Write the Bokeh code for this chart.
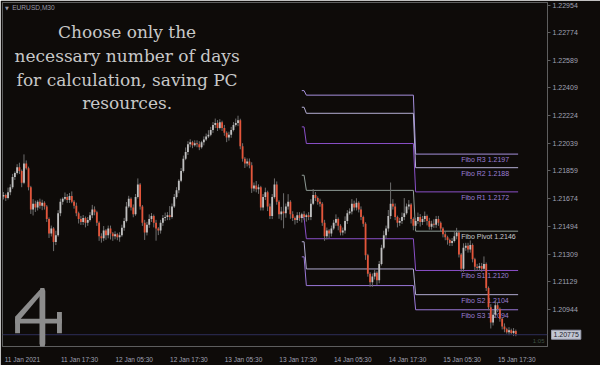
from bokeh.plotting import figure
from bokeh.models import (Range1d, FixedTicker, NumeralTickFormatter, Label, Span,
                          PolyAnnotation, ColumnDataSource, CustomJSTickFormatter)
from bokeh.embed import file_html
from bokeh.resources import INLINE
from bokeh.core.properties import value

# ---------------- data ----------------
symbol = "EURUSD,M30"
headline = ["Choose only the", "necessary number of days",
            "for calculation, saving PC", "resources."]
time_labels = ["11 Jan 2021", "11 Jan 17:30", "12 Jan 05:30", "12 Jan 17:30",
               "13 Jan 05:30", "13 Jan 17:30", "14 Jan 05:30", "14 Jan 17:30",
               "15 Jan 05:30", "15 Jan 17:30"]
time_label_bars = [0, 24, 48, 72, 96, 120, 144, 168, 192, 216]
price_ticks = [1.22954, 1.22774, 1.22589, 1.22409, 1.22224, 1.22039, 1.21859,
               1.21674, 1.21494, 1.21309, 1.21129, 1.20944]

first_open = 1.21690
closes = [
    1.21699, 1.21680, 1.21718, 1.21750, 1.21819, 1.21845, 1.21883, 1.21858, 1.21781, 1.21908,
    1.21877, 1.21750, 1.21604, 1.21642, 1.21617, 1.21655, 1.21629, 1.21648, 1.21623, 1.21541,
    1.21445, 1.21477, 1.21388, 1.21433, 1.21579, 1.21655, 1.21674, 1.21686, 1.21667, 1.21693,
    1.21655, 1.21629, 1.21579, 1.21541, 1.21521, 1.21547, 1.21515, 1.21534, 1.21566, 1.21604,
    1.21585, 1.21515, 1.21426, 1.21414, 1.21464, 1.21433, 1.21477, 1.21445, 1.21426, 1.21439,
    1.21420, 1.21433, 1.21483, 1.21528, 1.21623, 1.21674, 1.21617, 1.21572, 1.21686, 1.21769,
    1.21623, 1.21515, 1.21452, 1.21502, 1.21541, 1.21560, 1.21515, 1.21477, 1.21464, 1.21515,
    1.21547, 1.21553, 1.21566, 1.21553, 1.21623, 1.21686, 1.21731, 1.21794, 1.21858, 1.21940,
    1.21984, 1.22035, 1.22048, 1.22029, 1.22041, 1.22035, 1.22016, 1.22048, 1.22067, 1.22086,
    1.22098, 1.22130, 1.22162, 1.22175, 1.22143, 1.22181, 1.22143, 1.22111, 1.22079, 1.22098,
    1.22130, 1.22162, 1.22175, 1.22194, 1.22022, 1.21940, 1.21908, 1.21921, 1.21896, 1.21743,
    1.21762, 1.21737, 1.21750, 1.21617, 1.21686, 1.21718, 1.21623, 1.21560, 1.21686, 1.21769,
    1.21655, 1.21572, 1.21591, 1.21579, 1.21623, 1.21655, 1.21572, 1.21547, 1.21534, 1.21566,
    1.21547, 1.21572, 1.21553, 1.21566, 1.21553, 1.21642, 1.21699, 1.21680, 1.21655, 1.21642,
    1.21515, 1.21426, 1.21464, 1.21445, 1.21477, 1.21515, 1.21541, 1.21496, 1.21452, 1.21464,
    1.21528, 1.21579, 1.21591, 1.21642, 1.21617, 1.21648, 1.21604, 1.21553, 1.21509, 1.21300,
    1.21179, 1.21122, 1.21160, 1.21185, 1.21135, 1.21243, 1.21350, 1.21433, 1.21477, 1.21560,
    1.21642, 1.21623, 1.21553, 1.21515, 1.21528, 1.21553, 1.21579, 1.21623, 1.21636, 1.21541,
    1.21496, 1.21528, 1.21553, 1.21521, 1.21541, 1.21560, 1.21528, 1.21490, 1.21509, 1.21502,
    1.21541, 1.21515, 1.21477, 1.21439, 1.21420, 1.21401, 1.21382, 1.21395, 1.21426, 1.21452,
    1.21306, 1.21211, 1.21350, 1.21363, 1.21338, 1.21369, 1.21274, 1.21224, 1.21217, 1.21230,
    1.21211, 1.21243, 1.21084, 1.20957, 1.20856, 1.20907, 1.20970, 1.20945, 1.20881, 1.20830,
    1.20811, 1.20792, 1.20805, 1.20786, 1.20799, 1.20775,
]
wick_hi_pips = [
    2, 1, 3, 2, 2, 1, 2, 3, 1, 6,  2, 1, 1, 3, 2, 1, 2, 2, 1, 1,
    1, 2, 1, 3, 2, 2, 1, 3, 2, 2,  3, 1, 2, 1, 2, 2, 1, 2, 2, 3,
    2, 1, 1, 2, 3, 1, 2, 2, 1, 2,  1, 2, 2, 2, 3, 2, 1, 2, 2, 4,
    1, 1, 2, 2, 3, 2, 1, 2, 1, 2,  2, 3, 2, 6, 2, 2, 2, 1, 2, 2,
    3, 2, 2, 1, 2, 2, 2, 1, 2, 2,  3, 2, 2, 3, 2, 2, 1, 2, 1, 2,
    2, 2, 3, 3, 1, 2, 1, 2, 2, 2,  2, 3, 2, 1, 2, 3, 1, 2, 2, 4,
    2, 1, 3, 12, 2, 5, 1, 2, 1, 2, 2, 1, 2, 1, 2, 3, 4, 2, 1, 2,
    1, 2, 2, 1, 2, 2, 3, 1, 1, 2,  3, 2, 2, 3, 2, 3, 1, 2, 1, 1,
    1, 1, 2, 2, 1, 2, 2, 3, 2, 4,  14, 3, 2, 1, 2, 3, 10, 2, 3, 1,
    1, 2, 3, 2, 2, 3, 1, 2, 2, 3,  2, 2, 1, 1, 2, 1, 1, 2, 3, 3,
    1, 1, 3, 2, 2, 3, 1, 1, 2, 2,  2, 5, 1, 1, 2, 3, 3, 2, 1, 1,
    2, 1, 2, 1, 2, 1,
]
wick_lo_pips = [
    2, 2, 1, 2, 1, 2, 1, 2, 3, 1,  1, 2, 3, 4, 3, 2, 2, 3, 2, 2,
    3, 2, 6, 2, 1, 2, 2, 1, 2, 2,  1, 2, 2, 3, 2, 2, 3, 2, 1, 2,
    2, 2, 3, 3, 2, 3, 2, 4, 3, 2,  2, 3, 1, 2, 1, 1, 2, 2, 1, 1,
    2, 2, 5, 2, 2, 2, 3, 8, 3, 2,  2, 2, 2, 2, 1, 1, 1, 2, 1, 1,
    1, 2, 2, 2, 1, 2, 2, 1, 2, 1,  1, 1, 2, 2, 2, 1, 2, 2, 3, 2,
    2, 1, 1, 2, 2, 2, 3, 2, 2, 3,  2, 2, 3, 2, 2, 2, 3, 2, 2, 1,
    2, 3, 4, 10, 3, 2, 3, 2, 3, 2, 2, 3, 2, 3, 2, 2, 1, 2, 2, 2,
    2, 3, 2, 3, 2, 1, 2, 3, 2, 2,  2, 2, 1, 2, 2, 2, 2, 2, 2, 3,
    2, 3, 3, 2, 3, 2, 1, 1, 2, 2,  2, 2, 2, 3, 2, 2, 2, 1, 2, 3,
    3, 2, 2, 3, 2, 2, 3, 2, 2, 2,  2, 2, 2, 2, 2, 3, 2, 2, 1, 2,
    2, 2, 2, 2, 2, 2, 2, 3, 2, 2,  2, 1, 2, 2, 4, 2, 2, 2, 2, 2,
    2, 1, 2, 1, 2, 1,
]

level_names = ["R3", "R2", "R1", "Pivot", "S1", "S2", "S3"]
level_13jan = [1.2239, 1.2228, 1.2215, 1.2183, 1.2155, 1.2139, 1.2129]
level_14jan = [1.2236, 1.2224, 1.2204, 1.2173, 1.2141, 1.2121, 1.2110]
level_15jan = [1.2197, 1.2188, 1.2172, 1.2146, 1.2120, 1.2104, 1.2094]
# bar index where each day's segment starts/ends (13 Jan tail, 14 Jan, 15 Jan)
day_bars = [131, 132, 133, 180, 181, 226]
label_bar = 201
bid_price = 1.20775
timer_text = "1:05"

# ---------------- styles ----------------
BG = "#0e0b09"
FRAME = "#5e5e5e"
BULL = "#c0c0c0"
BEAR = "#e4553a"
WICK = "#6e6e6e"
level_colors = ["#a590dc", "#b4aed4", "#8a50c8", "#8f9c96", "#8a50c8", "#b0aad0", "#9a78d8"]
label_colors = ["#9c7fd6", "#9c7fd6", "#9c7fd6", "#c6cacd", "#9c7fd6", "#9c7fd6", "#9c7fd6"]
AXIS_TXT = "#a0a2b4"
SMALL_FONT = "Liberation Sans"

# ---------------- derived candle table ----------------
n = len(closes)
xs = list(range(n))
opens = [first_open] + closes[:-1]
pip = 0.0001
highs = [max(o, c) + h * pip for o, c, h in zip(opens, closes, wick_hi_pips)]
lows = [min(o, c) - l * pip for o, c, l in zip(opens, closes, wick_lo_pips)]
tops = [max(o, c) for o, c in zip(opens, closes)]
bottoms = [min(o, c) for o, c in zip(opens, closes)]
colors = [BULL if c >= o else BEAR for o, c in zip(opens, closes)]
src = ColumnDataSource(dict(x=xs, high=highs, low=lows, top=tops, bottom=bottoms, color=colors))

p = figure(frame_width=545, frame_height=344,
           min_border_left=2, min_border_right=37, min_border_top=2, min_border_bottom=13,
           x_range=Range1d(-0.43, 238.9), y_range=Range1d(1.20697, 1.22973),
           y_axis_location="right", output_backend="svg", toolbar_location=None,
           background_fill_color=BG, border_fill_color=BG,
           outline_line_color=FRAME, outline_line_width=1)
p.grid.visible = False

# pivot lines
for k in range(len(level_names)):
    ys = [level_13jan[k], level_13jan[k], level_14jan[k], level_14jan[k],
          level_15jan[k], level_15jan[k]]
    p.line(day_bars, ys, line_color=level_colors[k], line_width=1)

fibo_text = ["Fibo %s %.4f" % (nm, v) for nm, v in zip(level_names, level_15jan)]
p.text(x=[label_bar] * len(level_names), y=level_15jan, text=fibo_text,
       text_color=label_colors, text_font=value(SMALL_FONT), text_font_size="7px",
       text_align="left", text_baseline="middle", y_offset=5.5)

# bid line
p.add_layout(Span(location=bid_price, dimension="width", line_color="#2e2e58", line_width=1))

# candles
p.segment(x0="x", y0="low", x1="x", y1="high", source=src, line_color=WICK, line_width=1)
p.vbar(x="x", width=0.8, top="top", bottom="bottom", fill_color="color",
       line_color=None, source=src)

# x axis (labels left-aligned to their tick, as in MT4)
label_offsets = [8.3] + [9.4] * (len(time_label_bars) - 1)
tick_centers = [round(b + o, 1) for b, o in zip(time_label_bars, label_offsets)]
xa = p.xaxis[0]
xa.ticker = FixedTicker(ticks=tick_centers)
xa.formatter = CustomJSTickFormatter(args=dict(labels=time_labels), code="return labels[index];")
xa.major_tick_line_color = None
xa.minor_tick_line_color = None
xa.axis_line_color = FRAME
xa.major_label_text_font = SMALL_FONT
xa.major_label_text_font_size = "6.5px"
xa.major_label_text_color = AXIS_TXT
xa.major_label_standoff = 3

ya = p.yaxis[0]
ya.ticker = FixedTicker(ticks=price_ticks)
ya.formatter = NumeralTickFormatter(format="0.00000")
ya.major_tick_out = 3
ya.major_tick_in = 0
ya.major_tick_line_color = FRAME
ya.minor_tick_line_color = None
ya.axis_line_color = FRAME
ya.major_label_text_font = SMALL_FONT
ya.major_label_text_font_size = "7px"
ya.major_label_text_color = AXIS_TXT
ya.major_label_standoff = 2

# current price box (placed in the right side panel so it is not clipped to the frame)
p.add_layout(Label(x=-29, y=bid_price, x_units="screen", y_units="data", text="%.5f" % bid_price,
                   text_font=SMALL_FONT, text_font_size="7px", text_color="#1c1c2c",
                   text_baseline="middle", background_fill_color="#c2c6d2",
                   border_line_color="#9a9eb0", padding=2), "right")

# symbol caption
p.add_layout(Label(x=2.5, y=338.7, x_units="screen", y_units="screen", text="\u25bc",
                   text_font="DejaVu Sans", text_font_size="5px", text_color="#9a9aa8",
                   text_baseline="middle"))
p.add_layout(Label(x=9.7, y=338.7, x_units="screen", y_units="screen", text=symbol,
                   text_font=SMALL_FONT, text_font_size="6.6px", text_color="#9a9aa8",
                   text_baseline="middle"))

# headline
for line_txt, yy in zip(headline, [314.3, 290.3, 266.4, 243.4]):
    p.add_layout(Label(x=124.6, y=yy, x_units="screen", y_units="screen", text=line_txt,
                       text_font="DejaVu Serif", text_font_size="17px", text_color="#c8c8c8",
                       text_align="center", text_baseline="middle"))

# timer
p.add_layout(Label(x=530.3, y=5.7, x_units="screen", y_units="screen", text=timer_text,
                   text_font=SMALL_FONT, text_font_size="6px", text_color="#3f5244",
                   text_baseline="middle"))

# watermark logo
LOGO = "#8c8c8c"
logo_parts = [
    ([37.0, 37.9, 41.8, 42.8, 42.8, 39.9, 37.0], [55.6, 58.4, 58.4, 55.6, 2.9, -10.5, 2.9]),
    ([37.0, 40.9, 17.5, 12.6], [56.5, 54.6, 26.8, 29.7]),
    ([12.6, 17.5, 17.5, 12.6], [29.7, 29.7, 13.3, 13.3]),
    ([12.6, 59.4, 59.4, 12.6], [27.8, 27.8, 23.0, 23.0]),
    ([54.5, 59.4, 59.4, 54.5], [34.6, 34.6, 13.3, 13.3]),
]
for lx, ly in logo_parts:
    p.add_layout(PolyAnnotation(xs=lx, ys=ly, xs_units="screen", ys_units="screen",
                                fill_color=LOGO, fill_alpha=1.0, line_color=None))

open("out.html", "w").write(file_html(p, INLINE))
